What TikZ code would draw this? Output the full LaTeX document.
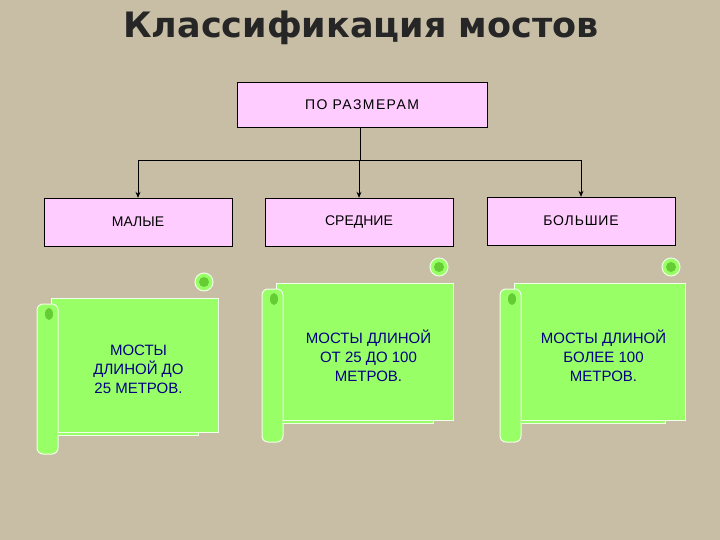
\documentclass[tikz,border=0pt]{standalone}
\usepackage{fontspec}
\usetikzlibrary{arrows.meta}
\setmainfont{Liberation Sans}
\newfontfamily\titlefont{DejaVu Sans}
\definecolor{bg}{HTML}{C8BEA6}
\definecolor{pinkf}{HTML}{FFCCFF}
\definecolor{grn}{HTML}{99FF66}
\definecolor{grnd}{HTML}{66CC33}
\definecolor{txtb}{HTML}{000080}
\begin{document}
\begin{tikzpicture}[x=1pt,y=-1pt,
 box/.style={draw=black,fill=pinkf,minimum height=48pt,inner sep=0pt,font=\fontsize{14}{16}\selectfont},
 arr/.style={-{Stealth[length=6pt,width=5pt]},thick},
 scr/.style={draw=white!85!grn,line width=1pt,fill=grn},
 stxt/.style={text=txtb,align=center,font=\fontsize{15}{19}\selectfont}]
\fill[bg] (0,0) rectangle (720,540);
\useasboundingbox (0,0) rectangle (720,540);
\node (t) [text=black!85,font=\titlefont\bfseries\fontsize{35}{40}\selectfont] at (361,28) {Классификация мостов};
\node (top) [box,minimum width=250pt,minimum height=45pt] at (362,104.5) {\addfontfeature{LetterSpace=10}ПО РАЗМЕРАМ};
\node (a) [box,minimum width=188pt] at (138,222) {МАЛЫЕ};
\node (b) [box,minimum width=188pt] at (359,222) {СРЕДНИЕ};
\node (c) [box,minimum width=188pt] at (581,221) {\addfontfeature{LetterSpace=6}БОЛЬШИЕ};
\coordinate (j) at (360,160);
\draw[thick] (top.south -| j) -- (j);
\draw[thick] (a.north |- j) -- (c.north |- j);
\draw[arr] (a.north |- j) -- (a.north);
\draw[arr] (b.north |- j) -- (b.north);
\draw[arr] (c.north |- j) -- (c.north);
% scrolls
\foreach \n/\x/\y/\w/\h/\t in {s1/37/298/181/134/{МОСТЫ\\ДЛИНОЙ ДО\\25 МЕТРОВ.},s2/262/283/191/137/{МОСТЫ ДЛИНОЙ\\ОТ 25 ДО 100\\МЕТРОВ.},s3/500/283/185/137/{МОСТЫ ДЛИНОЙ\\БОЛЕЕ 100\\МЕТРОВ.}}{
 \fill[scr] (\x+\w-14,\y-16) circle (9);
 \fill[grnd] (\x+\w-14,\y-16) circle (5);
 \draw[scr] (\x+14,\y) rectangle (\x+\w,\y+\h);
 \draw[scr,rounded corners=6] (\x,\y+6) rectangle (\x+21,\y+\h+22);
 \draw[scr] (\x+21,\y+\h) -- (\x+\w-20,\y+\h) -- (\x+\w-20,\y+\h+3) -- (\x+21,\y+\h+3);
 \fill[grnd] (\x+12,\y+16) ellipse (4 and 6);
 \node (\n) [stxt] at (\x+21+\w/2-10,\y+\h/2+4) {\t};
}
\end{tikzpicture}
\end{document}
